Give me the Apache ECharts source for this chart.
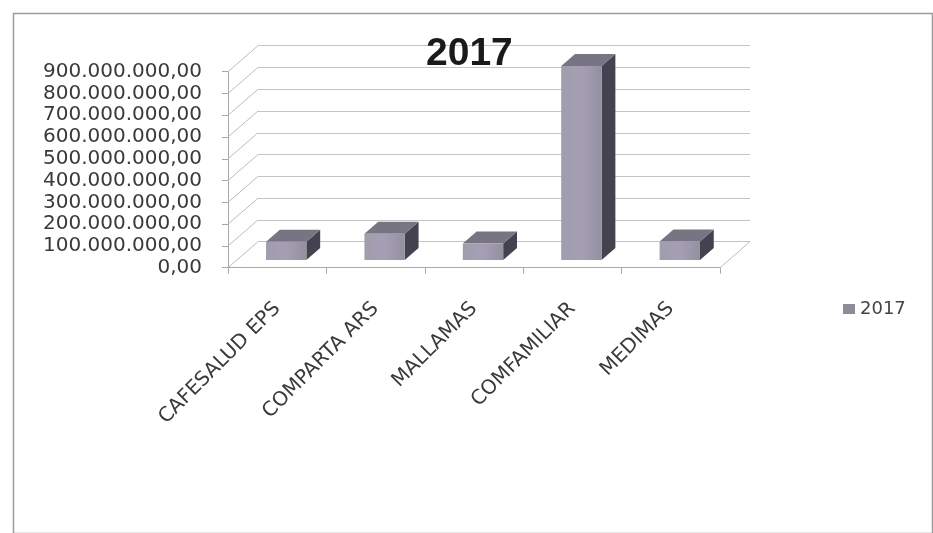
<!DOCTYPE html>
<html>
<head>
<meta charset="utf-8">
<script src="https://cdn.jsdelivr.net/npm/echarts@6/dist/echarts.min.js"></script>
<style>html,body{margin:0;padding:0;background:#fff;}#c{width:933px;height:533px;}</style>
</head>
<body>
<div id="c"></div>
<script>
// ---- data ----
const categories = ['CAFESALUD EPS', 'COMPARTA ARS', 'MALLAMAS', 'COMFAMILIAR', 'MEDIMAS'];
const values2017 = [83000000, 120000000, 75000000, 890000000, 85000000];
const seriesName = '2017';
const titleText = '2017';
const yTicks = [0, 100000000, 200000000, 300000000, 400000000, 500000000, 600000000, 700000000, 800000000, 900000000];
const yTickLabels = ['0,00', '100.000.000,00', '200.000.000,00', '300.000.000,00', '400.000.000,00',
  '500.000.000,00', '600.000.000,00', '700.000.000,00', '800.000.000,00', '900.000.000,00'];

// ---- pseudo 3D geometry (styles) ----
const DX = 30, DY = -26;      // depth offset of back wall
const F = 0.3, B = 0.76;      // bar front/back depth fractions
const BARW = 0.41;            // bar width as fraction of band

const chart = echarts.init(document.getElementById('c'), null, {renderer: 'canvas'});

const frontGrad = new echarts.graphic.LinearGradient(0, 0, 1, 0, [
  {offset: 0, color: '#a09dac'}, {offset: 0.5, color: '#a59fb5'}, {offset: 1, color: '#94909e'}
]);

function renderBar(params, api) {
  const i = api.value(0), v = api.value(1);
  const base = api.coord([i, 0]);
  const top = api.coord([i, v]);
  const bw = api.size([1, 0])[0] * BARW;
  const x0 = base[0] - bw / 2 + F * DX, x1 = x0 + bw;
  const yb = base[1] + F * DY, yt = top[1] + F * DY;
  const ddx = (B - F) * DX, ddy = (B - F) * DY;
  return {
    type: 'group',
    children: [
      {type: 'polygon', shape: {points: [[x1, yt], [x1, yb], [x1 + ddx, yb + ddy], [x1 + ddx, yt + ddy]]},
       style: {fill: '#45424f'}},
      {type: 'polygon', shape: {points: [[x0, yt], [x1, yt], [x1 + ddx, yt + ddy], [x0 + ddx, yt + ddy]]},
       style: {fill: '#787582'}},
      {type: 'rect', shape: {x: x0, y: yt, width: bw, height: yb - yt},
       style: {fill: frontGrad}}
    ]
  };
}

function renderFrame(params, api) {
  const cs = params.coordSys;
  const t = api.value(1);
  const y = api.coord([0, t])[1];
  const children = [
    {type: 'line', shape: {x1: cs.x, y1: y, x2: cs.x + DX, y2: y + DY},
     style: {stroke: '#bdbdbd', lineWidth: 1}}
  ];
  if (t === 0) {
    children.push({type: 'line', shape: {x1: cs.x + cs.width, y1: y, x2: cs.x + cs.width + DX, y2: y + DY},
      style: {stroke: '#bdbdbd', lineWidth: 1}});
  }
  return {type: 'group', children: children};
}

const option = {
  backgroundColor: '#ffffff',
  animation: false,
  title: {
    text: titleText,
    left: 426, top: 35, padding: 0,
    textStyle: {fontFamily: 'Liberation Sans', fontWeight: 'bold', fontSize: 39, color: '#1a1a1a'}
  },
  legend: {
    data: [seriesName],
    left: 843, top: 300, padding: 0,
    itemWidth: 12, itemHeight: 10, icon: 'rect',
    textStyle: {fontFamily: 'DejaVu Sans', fontSize: 18, color: '#444'}
  },
  graphic: [{
    type: 'rect', left: 11, top: 11, z: -10,
    shape: {width: 919, height: 520},
    style: {fill: 'none', stroke: '#9a9a9a', lineWidth: 1.5}
  }],
  grid: [
    {left: 228, top: 71.7, width: 492, height: 196},
    {left: 228 + DX, top: 71.7 + DY, width: 492, height: 196}
  ],
  xAxis: [
    {type: 'category', gridIndex: 0, data: categories, boundaryGap: true,
     axisLine: {show: true, lineStyle: {color: '#a8a8a8'}},
     axisTick: {show: true, length: 6, lineStyle: {color: '#a8a8a8'}},
     axisLabel: {interval: 0, rotate: 45, margin: 38, fontFamily: 'DejaVu Sans', fontSize: 20, color: '#3a3a3a'}},
    {type: 'category', gridIndex: 1, data: categories, show: false}
  ],
  yAxis: [
    {type: 'value', gridIndex: 0, min: 0, max: 900000000, interval: 100000000,
     axisLine: {show: true, lineStyle: {color: '#a8a8a8'}},
     axisTick: {show: true, length: 6, lineStyle: {color: '#a8a8a8'}},
     splitLine: {show: false},
     axisLabel: {margin: 26, fontFamily: 'DejaVu Sans', fontSize: 20, color: '#3a3a3a',
       formatter: function (v) { const k = yTicks.indexOf(v); return k >= 0 ? yTickLabels[k] : ''; }}},
    {type: 'value', gridIndex: 1, min: 0, max: 900000000, interval: 100000000,
     axisLine: {show: false}, axisTick: {show: false}, axisLabel: {show: false},
     splitLine: {show: true, lineStyle: {color: '#c4c4c4', width: 1}}}
  ],
  series: [
    {type: 'custom', name: 'frame', xAxisIndex: 0, yAxisIndex: 0, silent: true, z: 1,
     renderItem: renderFrame, data: yTicks.map(function (t) { return [0, t]; })},
    {type: 'custom', name: seriesName, xAxisIndex: 0, yAxisIndex: 0, z: 3,
     itemStyle: {color: '#8f8c99'},
     renderItem: renderBar, encode: {x: 0, y: 1},
     data: values2017.map(function (v, i) { return [i, v]; })}
  ]
};
chart.setOption(option);
</script>
</body>
</html>
